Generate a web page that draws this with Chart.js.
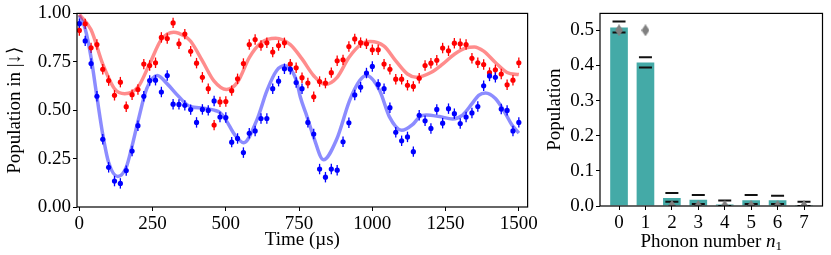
<!DOCTYPE html>
<html>
<head>
<meta charset="utf-8">
<script src="https://cdn.jsdelivr.net/npm/chart.js@4.4.0/dist/chart.umd.min.js"></script>
<style>
  html, body { margin: 0; padding: 0; background: #fff; }
  #wrap { position: relative; width: 831px; height: 255px; }
  #left { position: absolute; left: 0; top: 0; }
  #right { position: absolute; left: 540px; top: 0; }
</style>
</head>
<body>
<div id="wrap">
  <canvas id="left" width="540" height="255"></canvas>
  <canvas id="right" width="291" height="255"></canvas>
</div>
<script>
// ---- left panel data (time in us, population) ----
const times = [0, 20, 40, 60, 80, 100, 120, 140, 160, 180, 200, 220, 240, 260, 280, 300, 320, 340, 360, 380,
  400, 420, 440, 460, 480, 500, 520, 540, 560, 580, 600, 620, 640, 660, 680, 700, 720, 740, 760,
  780, 800, 820, 840, 860, 880, 900, 920, 940, 960, 980, 1000, 1020, 1040, 1060, 1080, 1100, 1120, 1140,
  1160, 1180, 1200, 1220, 1240, 1260, 1280, 1300, 1320, 1340, 1360, 1380, 1400, 1420, 1440, 1460, 1480, 1500];

const redVals = [0.912, 0.946, 0.822, 0.839, 0.711, 0.653, 0.577, 0.645, 0.518, 0.580, 0.607, 0.738, 0.731, 0.745, 0.876, 0.870, 0.951, 0.843, 0.893, 0.804,
  0.743, 0.670, 0.611, 0.423, 0.543, 0.545, 0.601, 0.662, 0.741, 0.839, 0.865, 0.834, 0.848, 0.800, 0.834, 0.848, 0.738, 0.719, 0.668,
  0.640, 0.569, 0.648, 0.640, 0.694, 0.755, 0.760, 0.829, 0.868, 0.849, 0.843, 0.812, 0.812, 0.738, 0.711, 0.660, 0.660, 0.629, 0.623,
  0.665, 0.731, 0.743, 0.758, 0.821, 0.807, 0.846, 0.843, 0.839, 0.768, 0.745, 0.736, 0.694, 0.709, 0.687, 0.631, 0.655, 0.745];

const blueVals = [0.947, 0.858, 0.741, 0.572, 0.350, 0.205, 0.134, 0.122, 0.188, 0.289, 0.420, 0.572, 0.653, 0.655, 0.594, 0.679, 0.531, 0.530, 0.525, 0.503,
  0.437, 0.504, 0.499, 0.548, 0.465, 0.462, 0.335, 0.354, 0.281, 0.381, 0.393, 0.457, 0.457, 0.611, 0.650, 0.714, 0.712, 0.643, 0.611,
  0.437, 0.377, 0.196, 0.154, 0.196, 0.190, 0.337, 0.435, 0.579, 0.619, 0.692, 0.726, 0.633, 0.611, 0.513, 0.386, 0.342, 0.362, 0.286,
  0.474, 0.445, 0.406, 0.504, 0.433, 0.508, 0.482, 0.431, 0.465, 0.486, 0.519, 0.626, 0.677, 0.670, 0.506, 0.499, 0.393, 0.437];

const errBar = 0.027;

// fit curves at a few times
const redFitT = [0, 40, 80, 120, 155, 200, 240, 280, 322, 360, 380, 420, 460, 502, 540, 580, 620, 670, 720, 760,
  800, 838, 880, 920, 960, 993, 1040, 1080, 1120, 1150, 1200, 1240, 1280, 1320, 1348, 1380, 1420, 1460, 1500];
const redFitV = [0.995, 0.915, 0.738, 0.611, 0.585, 0.619, 0.740, 0.865, 0.903, 0.882, 0.856, 0.755, 0.650, 0.607, 0.645, 0.772, 0.848, 0.872, 0.839, 0.765,
  0.678, 0.633, 0.670, 0.772, 0.839, 0.855, 0.831, 0.755, 0.687, 0.670, 0.695, 0.738, 0.789, 0.822, 0.827, 0.805, 0.746, 0.695, 0.684];

const blueFitT = [0, 20, 40, 60, 80, 100, 131, 160, 180, 200, 230, 266, 300, 340, 380, 420, 460, 480, 500, 530, 561,
  606, 640, 673, 701, 741, 754, 777, 800, 833, 878, 923, 957, 980, 1025, 1058, 1100, 1137, 1162, 1184, 1229, 1274,
  1308, 1341, 1363, 1386, 1420, 1454, 1476, 1500];
const blueFitV = [0.990, 0.920, 0.772, 0.569, 0.374, 0.230, 0.158, 0.205, 0.315, 0.442, 0.611, 0.679, 0.636, 0.569, 0.518, 0.512, 0.500, 0.487, 0.450, 0.374, 0.332,
  0.450, 0.600, 0.704, 0.729, 0.653, 0.569, 0.467, 0.360, 0.244, 0.349, 0.552, 0.653, 0.679, 0.602, 0.467, 0.396, 0.425, 0.467, 0.475, 0.467, 0.455,
  0.475, 0.535, 0.577, 0.589, 0.560, 0.484, 0.425, 0.382];

const xTicks = [0, 250, 500, 750, 1000, 1250, 1500];
const yTicks = [0, 0.25, 0.5, 0.75, 1.0];

// ---- right panel data ----
const phonon = [0, 1, 2, 3, 4, 5, 6, 7];
const popVals = [0.510, 0.410, 0.025, 0.020, 0.005, 0.018, 0.018, 0.002];
const popUpper = [0.525, 0.423, 0.037, 0.031, 0.016, 0.031, 0.029, 0.012];
const popLower = [0.494, 0.394, 0.012, 0.006, 0.0, 0.006, 0.006, 0.0];
const thermal = [0.5, 0.5, 0, 0, 0, 0, 0, 0];
const popTicks = [0, 0.1, 0.2, 0.3, 0.4, 0.5];

const serif = '"Liberation Serif", "DejaVu Serif", serif';

function pts(xs, ys) { return xs.map((x, i) => ({ x: x, y: ys[i] })); }

// draws the frame round the plot and vertical error bars
const frameAndErrors = {
  id: 'frameAndErrors',
  beforeDatasetsDraw(chart) {
    const ctx = chart.ctx;
    chart.data.datasets.forEach((ds, i) => {
      if (!ds.err) return;
      const xs = chart.scales.x, ys = chart.scales.y;
      ctx.save();
      ctx.strokeStyle = ds.backgroundColor;
      ctx.lineWidth = 1.3;
      ds.data.forEach(p => {
        const px = xs.getPixelForValue(p.x);
        ctx.beginPath();
        ctx.moveTo(px, ys.getPixelForValue(p.y - ds.err));
        ctx.lineTo(px, ys.getPixelForValue(p.y + ds.err));
        ctx.stroke();
      });
      ctx.restore();
    });
  },
  afterDraw(chart) {
    const a = chart.chartArea, ctx = chart.ctx;
    ctx.save();
    ctx.strokeStyle = '#000';
    ctx.lineWidth = 1.2;
    ctx.strokeRect(a.left, a.top, a.right - a.left, a.bottom - a.top);
    ctx.restore();
  }
};

function axisOpts(min, max, ticks, fmt, size) {
  return {
    type: 'linear', min: min, max: max, offset: false,
    afterBuildTicks: s => { s.ticks = ticks.map(v => ({ value: v })); },
    afterFit: s => { if (s.isHorizontal()) s.height = size; else s.width = size; },
    grid: { drawOnChartArea: false, drawTicks: true, tickLength: 4, color: '#000', lineWidth: 1, offset: false },
    border: { display: false },
    ticks: { color: '#000', padding: 2, font: { family: serif, size: 19 }, callback: fmt, maxRotation: 0, autoSkip: false }
  };
}

// left chart
const leftX = axisOpts(-8, 1530, xTicks, v => String(v), 48);
leftX.title = { display: true, text: 'Time (\u00b5s)', color: '#000', font: { family: serif, size: 19 }, padding: { top: 0 } };
const leftY = axisOpts(0, 1.0, yTicks, v => v.toFixed(2), 77);
leftY.title = { display: true, text: 'Population in |\u2193\u27e9', color: '#000', font: { family: serif, size: 19 }, padding: { bottom: 0 } };

new Chart(document.getElementById('left'), {
  type: 'scatter',
  data: {
    datasets: [
      { type: 'line', data: pts(redFitT, redFitV), borderColor: 'rgba(255,0,0,0.45)', borderWidth: 3.5,
        pointRadius: 0, cubicInterpolationMode: 'monotone', fill: false, order: 3 },
      { type: 'line', data: pts(blueFitT, blueFitV), borderColor: 'rgba(0,0,255,0.45)', borderWidth: 3.5,
        pointRadius: 0, cubicInterpolationMode: 'monotone', fill: false, order: 3 },
      { data: pts(times, redVals), backgroundColor: '#ff0000', borderColor: '#ff0000', pointRadius: 2.6, borderWidth: 0, err: errBar, order: 2 },
      { data: pts(times, blueVals), backgroundColor: '#0000ff', borderColor: '#0000ff', pointRadius: 2.6, borderWidth: 0, err: errBar, order: 1 }
    ]
  },
  options: {
    responsive: false, animation: false,
    layout: { padding: { top: 10, right: 9, left: 0, bottom: 0 } },
    plugins: { legend: { display: false }, tooltip: { enabled: false } },
    scales: { x: leftX, y: leftY }
  },
  plugins: [frameAndErrors]
});

// thin grey diamond marker
function thinDiamond() {
  const c = document.createElement('canvas');
  c.width = 8; c.height = 12;
  const g = c.getContext('2d');
  g.fillStyle = '#808080';
  g.beginPath();
  g.moveTo(4, 0); g.lineTo(8, 6); g.lineTo(4, 12); g.lineTo(0, 6); g.closePath();
  g.fill();
  return c;
}

const rightX = axisOpts(-0.72, 7.7, phonon, v => String(v), 49);
const rightY = axisOpts(0, 0.548, popTicks, v => v.toFixed(1), 60);
rightY.title = { display: true, text: 'Population', color: '#000', font: { family: serif, size: 19 }, padding: { bottom: 2 } };

// x title with italic n and subscript 1
const phononTitle = {
  id: 'phononTitle',
  afterDraw(chart) {
    const ctx = chart.ctx, xs = chart.scales.x;
    const cx = (xs.left + xs.right) / 2, y = 247;
    ctx.save();
    ctx.fillStyle = '#000';
    ctx.textBaseline = 'alphabetic';
    const a = 'Phonon number ', b = 'n', c = '1';
    ctx.font = '19px ' + serif;
    const wa = ctx.measureText(a).width;
    ctx.font = 'italic 19px ' + serif;
    const wb = ctx.measureText(b).width;
    ctx.font = '13px ' + serif;
    const wc = ctx.measureText(c).width;
    let x = cx - (wa + wb + wc) / 2;
    ctx.font = '19px ' + serif; ctx.fillText(a, x, y); x += wa;
    ctx.font = 'italic 19px ' + serif; ctx.fillText(b, x, y); x += wb;
    ctx.font = '13px ' + serif; ctx.fillText(c, x, y + 3);
    ctx.restore();
  }
};

new Chart(document.getElementById('right'), {
  type: 'bar',
  data: {
    datasets: [
      { type: 'scatter', data: pts(phonon, thermal), pointStyle: thinDiamond(), pointRadius: 6, clip: 0, order: 1 },
      { type: 'scatter', data: pts(phonon, popUpper), pointStyle: 'line', pointRadius: 6.5, borderColor: '#111', borderWidth: 2, clip: 0, order: 2 },
      { type: 'scatter', data: pts(phonon, popLower), pointStyle: 'line', pointRadius: 6.5, borderColor: '#111', borderWidth: 2, clip: 0, order: 2 },
      { data: pts(phonon, popVals), backgroundColor: '#44aaa7', borderColor: 'rgba(255,255,255,0.7)', borderWidth: 1, barThickness: 19, order: 3 }
    ]
  },
  options: {
    responsive: false, animation: false,
    layout: { padding: { top: 11, right: 4, left: 0, bottom: 0 } },
    plugins: { legend: { display: false }, tooltip: { enabled: false } },
    scales: { x: rightX, y: rightY }
  },
  plugins: [frameAndErrors, phononTitle]
});
</script>
</body>
</html>
